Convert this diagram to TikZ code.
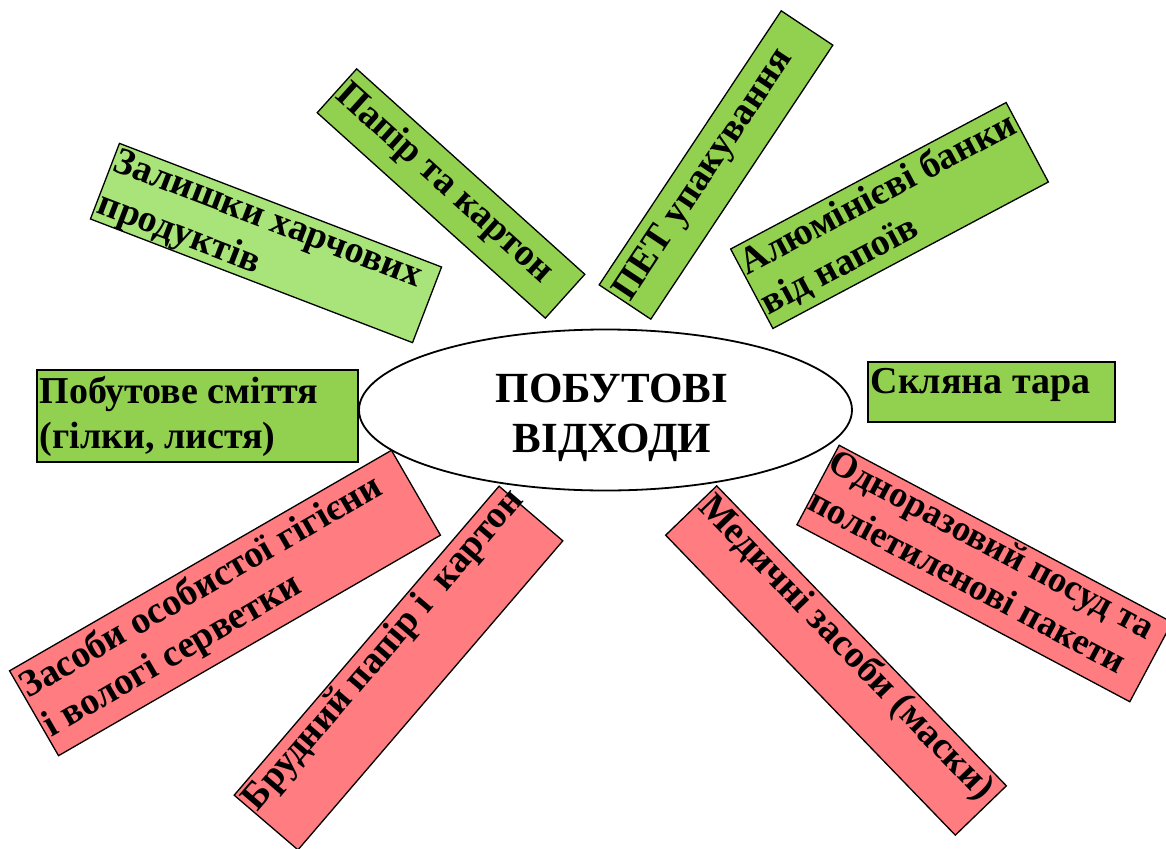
\documentclass[tikz,border=0pt]{standalone}
\usepackage{fontspec}
\setmainfont{Liberation Serif}
\usetikzlibrary{shapes.geometric}
\definecolor{leafgreen}{HTML}{92D050}
\definecolor{palegreen}{HTML}{A9E47A}
\definecolor{rosered}{HTML}{FF7C80}
\tikzset{
  bin/.style={draw=black, line width=1.3pt, rectangle, inner sep=0pt},
  tag/.style={anchor=north west, align=left, inner xsep=3pt, inner ysep=3pt,
    font=\bfseries\fontsize{38}{45}\selectfont}
}
\begin{document}
\begin{tikzpicture}[x=1pt, y=-1pt]
  \useasboundingbox (0,0) rectangle (1166,848);
  % Centre
  \node[draw, line width=1.8pt, ellipse, minimum width=493pt, minimum height=161pt,
    inner sep=0pt] (waste) at (605.5,410) {};
  \node[align=center, font=\bfseries\fontsize{43}{50}\selectfont]
    (wastetxt) at (612,418) {ПОБУТОВІ\\ВІДХОДИ};
  % Recyclable
  \node[bin, fill=palegreen, rotate=-21, minimum width=345pt, minimum height=81pt] (food) at (266,243) {};
  \node[tag, rotate=-21] (foodtxt) at (food.north west) {Залишки харчових\\продуктів};
  \node[bin, fill=leafgreen, rotate=-42, minimum width=307pt, minimum height=59pt] (paper) at (451,193.5) {};
  \node[tag, rotate=-42, inner ysep=10pt] (papertxt) at (paper.north west) {Папір та картон};
  \node[bin, fill=leafgreen, rotate=56.4, minimum width=329pt, minimum height=62pt] (pet) at (716,165) {};
  \node[tag, rotate=56.4, inner ysep=11pt] (pettxt) at (pet.north west) {ПЕТ упакування};
  \node[bin, fill=leafgreen, rotate=28, minimum width=312pt, minimum height=90pt] (alu) at (889.5,215.5) {};
  \node[tag, rotate=28, inner ysep=5pt] (alutxt) at (alu.north west) {Алюмінієві банки\\від напоїв};
  \node[bin, fill=leafgreen, minimum width=247pt, minimum height=60pt] (glass) at (991.5,392) {};
  \node[tag, inner ysep=7pt] (glasstxt) at (glass.north west) {Скляна тара};
  \node[bin, fill=leafgreen, minimum width=321pt, minimum height=92pt] (yard) at (197.5,416) {};
  \node[tag, inner ysep=7pt] (yardtxt) at (yard.north west) {Побутове сміття\\(гілки, листя)};
  % Not recyclable
  \node[bin, fill=rosered, rotate=30, minimum width=441pt, minimum height=98pt] (hygiene) at (225,603) {};
  \node[tag, rotate=30, inner ysep=7pt] (hygienetxt) at (hygiene.north west) {Засоби особистої гігієни\\і вологі серветки};
  \node[bin, fill=rosered, rotate=49.4, minimum width=407pt, minimum height=84pt] (dirty) at (398.5,668) {};
  \node[tag, rotate=49.4] (dirtytxt) at (dirty.north west) {Брудний папір і\ \ картон};
  \node[bin, fill=rosered, rotate=-46, minimum width=417pt, minimum height=71pt] (medic) at (836,660.5) {};
  \node[tag, rotate=-46] (medictxt) at (medic.north west) {Медичні засоби (маски)};
  \node[bin, fill=rosered, rotate=-28, minimum width=377pt, minimum height=90pt] (dishes) at (984.5,573.5) {};
  \node[tag, rotate=-28, inner xsep=1pt, font=\bfseries\fontsize{36.5}{44}\selectfont]
    (dishestxt) at (dishes.north west) {Одноразовий посуд та\\поліетиленові пакети};
\end{tikzpicture}
\end{document}
